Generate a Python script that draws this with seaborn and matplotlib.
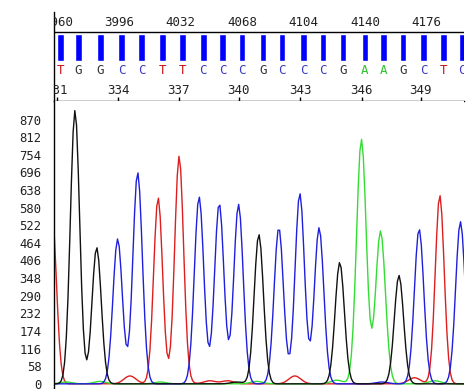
import numpy as np
import pandas as pd
import matplotlib
matplotlib.use("Agg")
import matplotlib.pyplot as plt
import seaborn as sns

# base calls in the strip above the traces (scan position of each call)
bases = list("TGGCCTTCCCGCCCGAAGCTC")
base_scans = [3961.7, 3972.0, 3984.9, 3997.4, 4009.1, 4021.2, 4032.9, 4045.2,
              4056.5, 4068.0, 4080.3, 4091.4, 4104.1, 4115.4, 4127.2, 4139.9,
              4151.0, 4162.3, 4174.4, 4186.1, 4196.8]

# scan numbers printed on top, base index numbers below the letters
scan_ticks = [3960, 3996, 4032, 4068, 4104, 4140, 4176]
index_labels = [331, 334, 337, 340, 343, 346, 349]
index_scans = [3959.5, 3995.4, 4031.0, 4066.1, 4102.2, 4138.0, 4172.6]

y_ticks = [0, 58, 116, 174, 232, 290, 348, 406, 464, 522, 580, 638, 696,
           754, 812, 870]

# main peaks
peak_channel = ["T", "G", "G", "C", "C", "T", "T", "C", "C", "C", "G",
                "C", "C", "C", "G", "A", "A", "G", "C", "T", "C"]
peak_scan = [3956.6, 3970.1, 3982.8, 3995.1, 4006.8, 4018.8, 4031.1, 4042.8,
             4054.6, 4065.9, 4077.8, 4089.5, 4101.8, 4113.1, 4125.2, 4137.9,
             4149.1, 4159.9, 4171.7, 4183.8, 4195.9]
peak_height = [560, 900, 449, 477, 696, 613, 744, 616, 594, 591, 492, 514,
               627, 514, 400, 805, 503, 357, 510, 621, 534]

# small bumps near the baseline
bump_channel = ["T", "T", "T", "T", "T", "T", "A", "A", "A", "A", "A", "A",
                "G", "C"]
bump_scan = [4002.3, 4049.0, 4059.6, 4098.9, 4169.0, 4034.0, 3965.0, 3984.7,
             4020.0, 4076.6, 4123.5, 4181.0, 4065.0, 4150.0]
bump_height = [26, 10, 10, 26, 20, 8, 6, 8, 6, 8, 12, 10, 6, 6]

trace_colors = {"G": "#111111", "C": "#1f1fdd", "T": "#dd1f1f", "A": "#33dd33"}
letter_colors = {"G": "#333333", "C": "#3a3ac4", "T": "#cc1010", "A": "#2ec42e"}
widths = {"G": 2.7, "C": 2.75, "T": 2.6, "A": 2.85}

# build the traces, one value per scan
scans = np.arange(3940, 4212)
rows = []
for ch in ["T", "A", "C", "G"]:
    sig = np.zeros(len(scans))
    for c, s, h in zip(peak_channel, peak_scan, peak_height):
        if c == ch:
            sig += h * np.exp(-(scans - s) ** 2 / (2 * widths[ch] ** 2))
    for c, s, h in zip(bump_channel, bump_scan, bump_height):
        if c == ch:
            sig += h * np.exp(-(scans - s) ** 2 / (2 * 3.5 ** 2))
    rows.append(pd.DataFrame({"scan": scans, "signal": sig, "channel": ch}))
df = pd.concat(rows, ignore_index=True)

sns.set_style("white")
plt.rcParams["font.family"] = ["DejaVu Sans Mono"]
mono = 9

fig = plt.figure(figsize=(4.7, 3.89), dpi=100)
W, H = 470, 389
left, right = 54 / W, 464 / W
ax_top = fig.add_axes([left, 1 - 101 / H, right - left, 89 / H])
ax = fig.add_axes([left, 0, right - left, 1 - 101 / H])

xmin, xmax = 3957.8, 4198.0

# traces
sns.lineplot(data=df, x="scan", y="signal", hue="channel", palette=trace_colors,
             estimator=None, legend=False, linewidth=1.0, ax=ax)
ax.set_xlim(xmin, xmax)
ax.set_ylim(-17, 931)
ax.set_yticks(y_ticks)
ax.set_yticklabels([str(v) for v in y_ticks], fontsize=8.8, color="#222222")
ax.tick_params(axis="y", length=0, pad=8.9)
ax.set_xticks([])
ax.set_xlabel("")
ax.set_ylabel("")
for side in ["top", "right", "bottom"]:
    ax.spines[side].set_visible(False)
ax.spines["left"].set_color("black")
ax.spines["left"].set_linewidth(1.0)

# top strip: y measured downward in pixels from the top of the strip
ax_top.set_xlim(xmin, xmax)
ax_top.set_ylim(89, 0)
ax_top.axhline(20, color="black", linewidth=1.0)
ax_top.bar(base_scans, 27, bottom=22, width=3.9, color="#0000ff", align="center")
for s in scan_ticks:
    ax_top.text(s, 10, str(s), ha="center", va="center", fontsize=mono,
                color="#222222", clip_on=True)
for b, s in zip(bases, base_scans):
    ax_top.text(s, 59, b, ha="center", va="center", fontsize=mono,
                color=letter_colors[b], clip_on=True)
for lab, s in zip(index_labels, index_scans):
    ax_top.text(s, 78, str(lab), ha="center", va="center", fontsize=mono,
                color="#222222", clip_on=True)
ax_top.set_xticks(index_scans)
ax_top.set_xticklabels([])
ax_top.set_yticks([])
ax_top.tick_params(axis="x", direction="in", length=3.0, width=1.0,
                   color="black", bottom=True)
for side in ["top", "right"]:
    ax_top.spines[side].set_visible(False)
for side in ["left", "bottom"]:
    ax_top.spines[side].set_color("black")
    ax_top.spines[side].set_linewidth(1.0)

fig.savefig("out.png", dpi=100)
